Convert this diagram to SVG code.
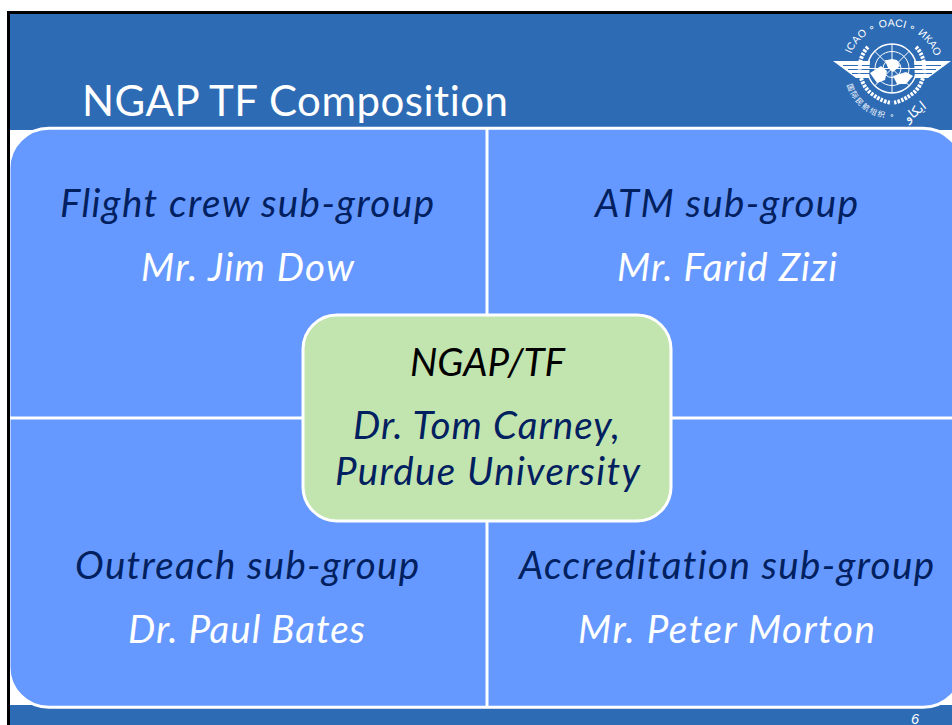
<svg xmlns="http://www.w3.org/2000/svg" width="952" height="725" viewBox="0 0 952 725">
<style>
text{font-variant-ligatures:none}
.t{font-family:Lato,"Open Sans",sans-serif;font-style:italic;font-size:38.500px;text-anchor:middle}
.d{fill:#002060}.w{fill:#fff}.k{fill:#000}
.l{stroke:#fff;fill:none}
.e{font-family:"Liberation Sans",sans-serif;fill:#fff}
</style>
<defs>
<path id="arcTop" d="M851 54A45 45 0 0 1 934 54"/>
<path id="arcZh" d="M847 85A46.500 46.500 0 0 0 886 118"/>
</defs>
<rect width="952" height="725" fill="#fff"/>
<rect x="8.500" y="12.500" width="950" height="720" fill="#2d6bb5"/>
<rect x="10" y="130" width="942" height="575" fill="#fff"/>
<g id="title"><text x="82" y="116" font-family="Lato,'Open Sans',sans-serif" font-size="42" fill="#fff" textLength="426">NGAP TF Composition</text></g>
<g id="emblem" class="l">
<g stroke-width="1">
<circle cx="892" cy="68.500" r="24.500" stroke-width="1.500"/><circle cx="892" cy="68.500" r="17"/><circle cx="892" cy="68.500" r="9"/>
<path d="M867.500 68.500H916.500M892 44V93M874.700 51.200L909.300 85.800M909.300 51.200L874.700 85.800"/>
</g>
<path d="M870 73L881 66L887 71L885 80L877 83ZM885 60L897 60L900 66L893 72L888 68ZM893 76L906 72L913 76L906 84L897 84Z" fill="#fff" stroke="none"/>
<path d="M833 61H870L869 78H856ZM951 61H914L915 78H928Z" fill="#fff" stroke="none"/>
<path d="M843 65.500H870M848 69.500H870M852 73.500H870M941 65.500H914M936 69.500H914M932 73.500H914" stroke="#2d6bb5" stroke-width="1"/>
<path d="M868 47C855 60 858 84 872 94C880 100 886 102 891 103M916 47C929 60 926 84 912 94C904 100 898 102 893 103" stroke-width="4" stroke-dasharray="2.500 1.200"/>
<text class="e" font-size="10.500" stroke="none"><textPath href="#arcTop" textLength="108">ICAO ∘ OACI ∘ ИКАО</textPath></text>
<text font-family="'Noto Sans CJK SC',sans-serif" font-size="7.500" fill="#fff" stroke="none"><textPath href="#arcZh" textLength="52">国际民航组织</textPath></text>
<circle cx="892" cy="115.500" r="1" stroke-width="0.700"/>
<text x="915" y="116" transform="rotate(-38 915 112)" text-anchor="middle" font-family="'DejaVu Sans',sans-serif" font-size="13" fill="#fff" stroke="none">ايكاو</text>
</g>
<g id="panel"><rect x="9" y="128.200" width="954" height="579" rx="40" fill="#6699ff" stroke="#fff" stroke-width="3"/></g>
<g id="connectors" class="l" stroke-width="3">
<path d="M487 128V707M10 418H952"/>
</g>
<g id="flight-crew"><text class="t d" x="247" y="217" textLength="374">Flight crew sub-group</text><text class="t w" x="247.500" y="281" textLength="213">Mr. Jim Dow</text></g>
<g id="atm"><text class="t d" x="726.500" y="217" textLength="263">ATM sub-group</text><text class="t w" x="727" y="281" textLength="220">Mr. Farid Zizi</text></g>
<g id="outreach"><text class="t d" x="247" y="579" textLength="344">Outreach sub-group</text><text class="t w" x="246.500" y="643" textLength="237">Dr. Paul Bates</text></g>
<g id="accreditation"><text class="t d" x="726.500" y="579" textLength="415">Accreditation sub-group</text><text class="t w" x="726.500" y="643" textLength="297">Mr. Peter Morton</text></g>
<g id="center">
<rect x="303" y="315" width="368" height="206" rx="34" fill="#c2e4ae" stroke="#fff" stroke-width="3"/>
<text class="t k" x="487.500" y="376" textLength="155">NGAP/TF</text>
<text class="t d" x="486.500" y="439" textLength="267">Dr. Tom Carney,</text>
<text class="t d" x="487.500" y="485" textLength="305">Purdue University</text>
</g>
<g id="page"><text x="915" y="723.500" font-family="'Liberation Sans',sans-serif" font-style="italic" font-size="14.500" fill="#fff" text-anchor="middle">6</text></g>
<path d="M8.500 725V12.500H952" fill="none" stroke="#000" stroke-width="3"/>
</svg>
